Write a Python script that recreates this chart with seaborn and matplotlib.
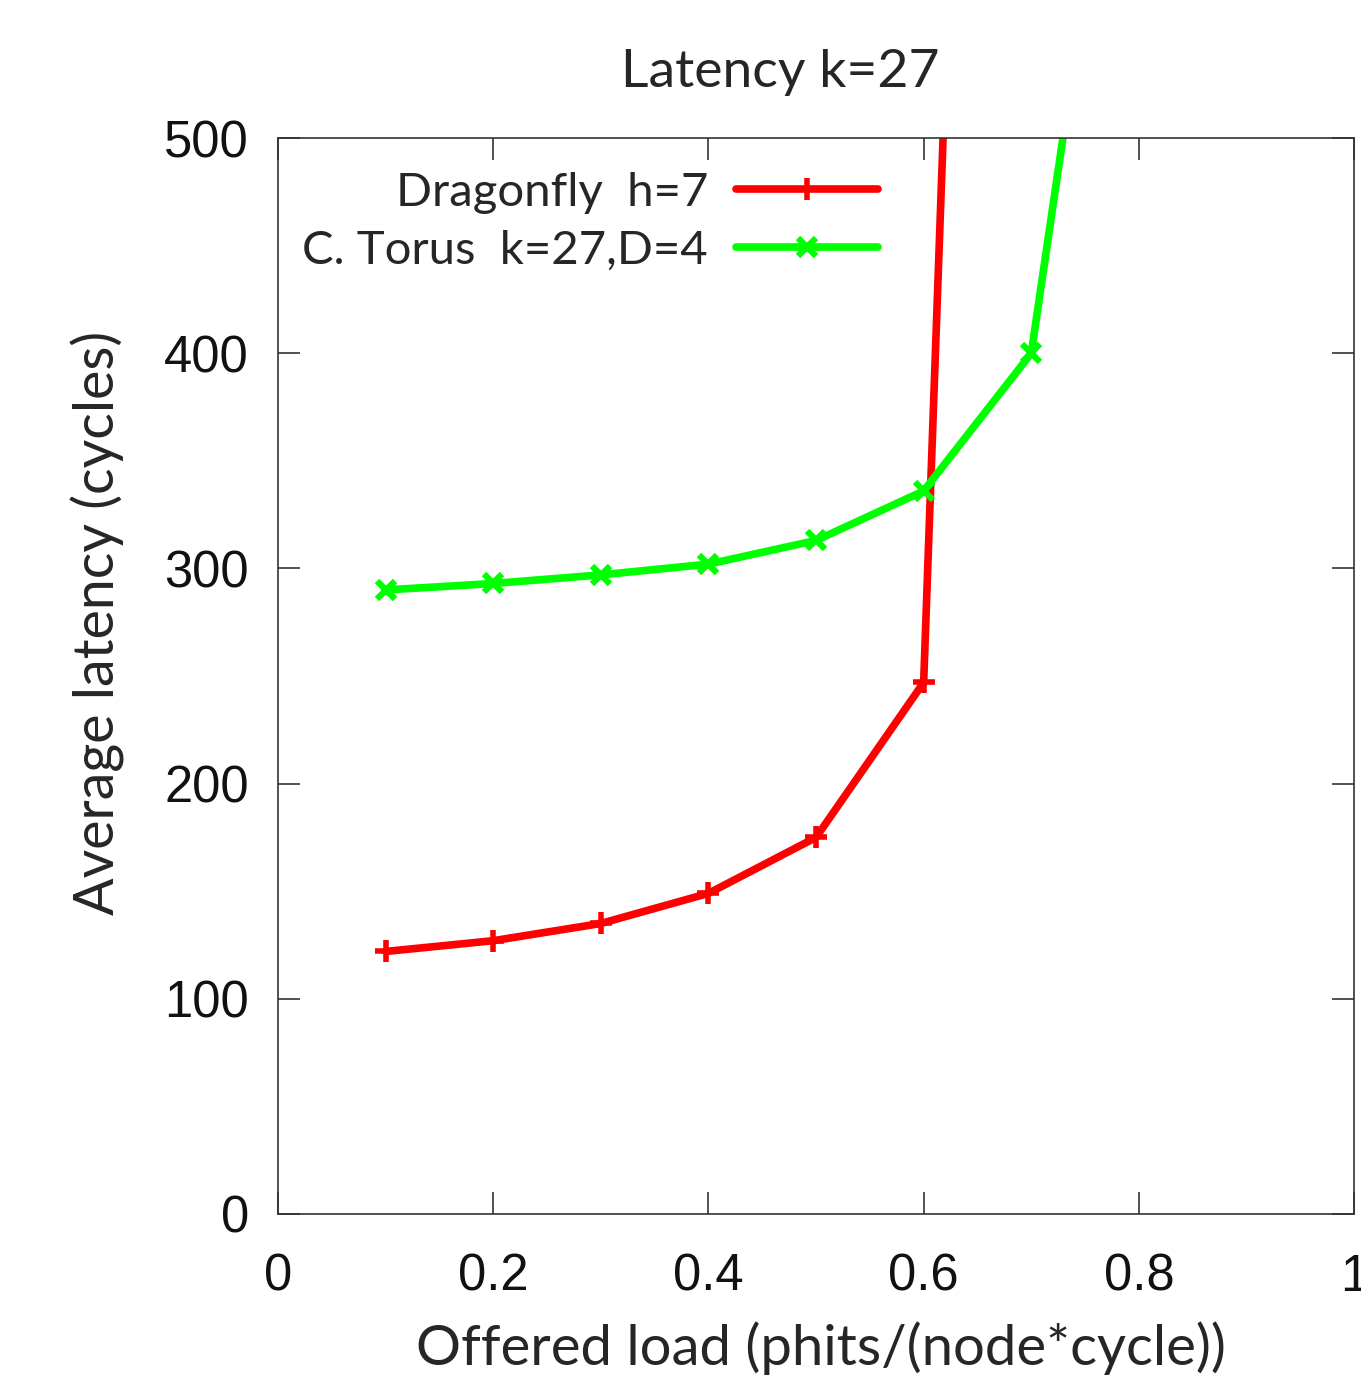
import numpy as np
import pandas as pd
import matplotlib
matplotlib.use("Agg")
import matplotlib.pyplot as plt
import seaborn as sns

# offered load (phits/(node*cycle)) and average latency (cycles)
load = [0.1, 0.2, 0.3, 0.4, 0.5, 0.6, 0.7, 0.8]
dragonfly_lat = [122, 127, 135, 149, 175, 247, 1650]
torus_lat = [290, 293, 297, 302, 313, 336, 400, 740]

x_ticks = [0, 0.2, 0.4, 0.6, 0.8, 1]
x_tick_labels = ["0", "0.2", "0.4", "0.6", "0.8", "1"]
y_ticks = [0, 100, 200, 300, 400, 500]

sns.set_style("white")
text_font = ["Lato", "DejaVu Sans"]
tick_font = ["Liberation Sans", "DejaVu Sans"]

fig = plt.figure(figsize=(13.61, 13.75), dpi=100)
ax = fig.add_axes([0.2043, 0.1171, 0.7906, 0.7825])

df = pd.DataFrame({"load": load[:len(dragonfly_lat)], "lat": dragonfly_lat})
sns.lineplot(data=df, x="load", y="lat", ax=ax, color="#ff0000", lw=5.5,
             marker="+", markersize=16, markeredgewidth=4, markeredgecolor="#ff0000",
             label="Dragonfly  h=7", sort=False)
dt = pd.DataFrame({"load": load[:len(torus_lat)], "lat": torus_lat})
sns.lineplot(data=dt, x="load", y="lat", ax=ax, color="#00ff00", lw=5.5,
             marker="x", markersize=13, markeredgewidth=4.5, markeredgecolor="#00ff00",
             label="C. Torus  k=27,D=4", sort=False)

ax.set_xlim(0, 1)
ax.set_ylim(0, 500)
ax.set_xticks(x_ticks)
ax.set_xticklabels(x_tick_labels)
ax.set_yticks(y_ticks)
for lab in ax.get_xticklabels() + ax.get_yticklabels():
    lab.set_fontfamily(tick_font)
    lab.set_fontsize(36.5)
    lab.set_color("#111111")

ax.tick_params(direction="in", length=16, width=1.2, color="#333333",
               top=True, right=True, bottom=True, left=True)
ax.tick_params(axis="x", pad=28)
ax.tick_params(axis="y", pad=21)
for s in ax.spines.values():
    s.set_color("#333333")
    s.set_linewidth(1.2)
ax.grid(False)

# title sits a bit left of the axes centre
fig.text(780 / 1361, 1 - 72 / 1375, "Latency k=27", family=text_font, fontsize=38.5,
         ha="center", va="center")
ax.set_xlabel("Offered load (phits/(node*cycle))", family=text_font, fontsize=40.5)
ax.xaxis.label.set_va("center")
ax.xaxis.set_label_coords((821 - 278) / 1076, (1214 - 1348) / 1076)
ax.set_ylabel("Average latency (cycles)", family=text_font, fontsize=40)
ax.yaxis.label.set_va("center")
ax.yaxis.set_label_coords((98 - 278) / 1076, (1214 - 623) / 1076)

leg = ax.legend(loc="upper right", bbox_to_anchor=((878 - 278) / 1076, 0.9685), frameon=False,
                markerfirst=False, handlelength=3.0, handletextpad=0.6,
                labelspacing=0.34, borderaxespad=0, borderpad=0,
                prop={"family": text_font, "size": 34})
for h in leg.legend_handles:
    h.set_linewidth(5.5)

fig.savefig("out.png", dpi=100)
